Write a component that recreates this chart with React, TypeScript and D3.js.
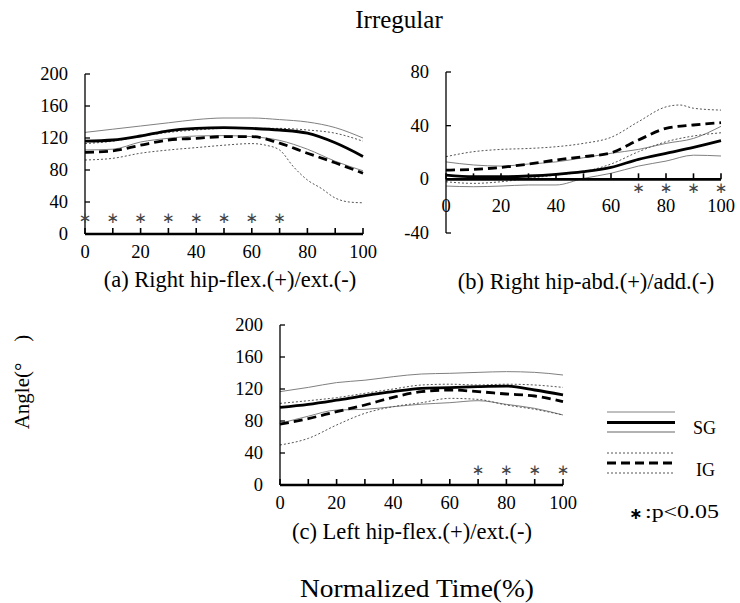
import React from "react";
import * as d3 from "d3";

const xs = [0, 10, 20, 30, 40, 50, 60, 70, 80, 90, 100];

// (a) Right hip flex/ext
const aSgMean = [116, 117.5, 122.5, 129, 132, 133, 132, 130, 126, 114, 97];
const aSgUpper = [127, 131, 135, 139, 143, 145, 145, 143, 140, 133, 120];
const aSgLower = [105, 106, 115, 119.6, 122.5, 123, 121.7, 117, 106, 91, 79];
const aIgMean = [102, 104, 111, 117.5, 119.6, 121.7, 121.7, 113.5, 101, 89, 76];
const aIgUpper = [113, 116, 122, 127, 130, 132, 132, 132, 130, 126, 116];
const aIgLowerX = [0, 10, 20, 30, 40, 50, 60, 65, 70, 75, 80, 85, 90, 95, 100];
const aIgLower = [92.5, 94.6, 101, 105, 108, 111, 113, 111, 105, 84, 67.5, 57, 45, 40, 39];
const aStars = [0, 10, 20, 30, 40, 50, 60, 70];

// (b) Right hip abd/add
const bSgMean = [3.2, 2, 2, 2.5, 3.7, 5.7, 8.9, 14.9, 19.4, 23.8, 28.8];
const bSgUpper = [13, 10.7, 9.9, 11.4, 13, 16.1, 19.4, 22.3, 26.8, 30.5, 39.5];
const bSgLower = [-5, -5.5, -5, -4.2, -4.2, 0.7, 4.5, 9.9, 13.6, 18, 17.4];
const bIgMean = [6.9, 7.4, 8.9, 11.4, 14.4, 16.9, 19.8, 29.3, 38, 40.5, 42.2];
const bIgUpperX = [0, 10, 20, 30, 40, 50, 60, 70, 80, 85, 90, 100];
const bIgUpper = [16.9, 20.6, 22.3, 23, 24.3, 26.8, 31.3, 43, 54, 55.4, 53, 51.6];
const bIgLower = [-1.8, -3, -1.8, 0.7, 3.2, 5.7, 11.4, 20.6, 28, 32.3, 34.7];
const bStars = [70, 80, 90, 100];

// (c) Left hip flex/ext
const cSgMean = [97, 100.8, 106, 111.7, 116.7, 120.8, 121.7, 123, 123.7, 118.75, 112.5];
const cSgUpper = [116.7, 122, 128, 131, 135.4, 138.75, 139.6, 140.8, 141.7, 140.8, 137.5];
const cSgLower = [77, 86, 93.75, 94.6, 97.9, 101, 102.9, 105.4, 100.8, 95.8, 87.5];
const cIgMean = [76, 83, 91.7, 100, 109.6, 116.7, 118.75, 116.7, 113.75, 111.25, 104.2];
const cIgUpper = [102, 105.4, 109.2, 114.6, 120, 125, 126, 125, 126, 125, 122];
const cIgLower = [50, 58.3, 75, 89.6, 97.9, 102.9, 108.3, 107, 100, 94.6, 87.5];
const cStars = [70, 80, 90, 100];

const xTickLabels = [0, 20, 40, 60, 80, 100];
const flexTicks = [0, 40, 80, 120, 160, 200];
const abdTicks = [-40, 0, 40, 80];

const FONT = "'Liberation Serif', 'DejaVu Serif', serif";

type SeriesDef = { x: number[]; y: number[]; kind: "sgMean" | "sgSd" | "igMean" | "igSd" };

function styleFor(kind: SeriesDef["kind"]) {
  switch (kind) {
    case "sgMean":
      return { stroke: "#000", width: 2.8, dash: undefined as string | undefined };
    case "sgSd":
      return { stroke: "#808080", width: 1, dash: undefined };
    case "igMean":
      return { stroke: "#000", width: 2.8, dash: "9,5" };
    default:
      return { stroke: "#555", width: 1, dash: "2,2" };
  }
}

function Panel(props: {
  left: number;
  right: number;
  top: number;
  bottom: number;
  domain: [number, number];
  yTicks: number[];
  series: SeriesDef[];
  stars: number[];
  starVal: number;
  xAxisVal: number;
  xLabelOffset: number;
  label: string;
  labelX: number;
  labelY: number;
}) {
  const x = d3.scaleLinear().domain([0, 100]).range([props.left, props.right]);
  const y = d3.scaleLinear().domain(props.domain).range([props.bottom, props.top]);
  const axisY = y(props.xAxisVal);
  const minor = d3.range(0, 101, 10);
  return (
    <g>
      {props.series.map((s, i) => {
        const st = styleFor(s.kind);
        const line = d3
          .line<number>()
          .x((_, j) => x(s.x[j]))
          .y((v) => y(v))
          .curve(d3.curveMonotoneX);
        return (
          <path
            key={i}
            d={line(s.y) || ""}
            fill="none"
            stroke={st.stroke}
            strokeWidth={st.width}
            strokeDasharray={st.dash}
          />
        );
      })}
      <line x1={x(0)} x2={x(0)} y1={y(props.domain[0])} y2={y(props.domain[1])} stroke="#000" strokeWidth={1.3} />
      {props.yTicks.map((t) => (
        <g key={t}>
          <line x1={x(0)} x2={x(0) + 5} y1={y(t)} y2={y(t)} stroke="#000" strokeWidth={1.3} />
          <text
            x={x(0) - 17}
            y={y(t)}
            textAnchor="end"
            dominantBaseline="central"
            fontFamily={FONT}
            fontSize={18.5}
          >
            {t}
          </text>
        </g>
      ))}
      <line x1={x(0)} x2={x(100)} y1={axisY} y2={axisY} stroke="#000" strokeWidth={2.6} />
      {minor.map((t) => (
        <line key={t} x1={x(t)} x2={x(t)} y1={axisY} y2={axisY - 6} stroke="#000" strokeWidth={1.6} />
      ))}
      {xTickLabels.map((t) => (
        <text
          key={t}
          x={x(t)}
          y={axisY + props.xLabelOffset}
          textAnchor="middle"
          dominantBaseline="central"
          fontFamily={FONT}
          fontSize={18.5}
        >
          {t}
        </text>
      ))}
      {props.stars.map((t) => (
        <text
          key={t}
          x={x(t)}
          y={y(props.starVal)}
          textAnchor="middle"
          dominantBaseline="central"
          fontFamily="'DejaVu Sans', sans-serif"
          fontSize={15}
          fill="#444"
        >
          ∗
        </text>
      ))}
      <text
        x={props.labelX}
        y={props.labelY}
        textAnchor="middle"
        dominantBaseline="central"
        fontFamily={FONT}
        fontSize={22.5}
      >
        {props.label}
      </text>
    </g>
  );
}

export default function App() {
  return (
    <svg
      width={740}
      height={603}
      style={{ position: "absolute", left: 0, top: 0, background: "#fff" }}
    >
      <rect x={0} y={0} width={740} height={603} fill="#fff" />
      <text x={399} y={19} textAnchor="middle" dominantBaseline="central" fontFamily={FONT} fontSize={25}>
        Irregular
      </text>
      <Panel
        left={85}
        right={363}
        top={74}
        bottom={234}
        domain={[0, 200]}
        yTicks={flexTicks}
        xAxisVal={0}
        xLabelOffset={18}
        series={[
          { x: xs, y: aSgUpper, kind: "sgSd" },
          { x: xs, y: aSgLower, kind: "sgSd" },
          { x: xs, y: aIgUpper, kind: "igSd" },
          { x: aIgLowerX, y: aIgLower, kind: "igSd" },
          { x: xs, y: aSgMean, kind: "sgMean" },
          { x: xs, y: aIgMean, kind: "igMean" },
        ]}
        stars={aStars}
        starVal={20}
        label="(a) Right hip-flex.(+)/ext.(-)"
        labelX={230}
        labelY={279}
      />
      <Panel
        left={446}
        right={721}
        top={72}
        bottom={233}
        domain={[-40, 80]}
        yTicks={abdTicks}
        xAxisVal={0}
        xLabelOffset={27}
        series={[
          { x: xs, y: bSgUpper, kind: "sgSd" },
          { x: xs, y: bSgLower, kind: "sgSd" },
          { x: bIgUpperX, y: bIgUpper, kind: "igSd" },
          { x: xs, y: bIgLower, kind: "igSd" },
          { x: xs, y: bSgMean, kind: "sgMean" },
          { x: xs, y: bIgMean, kind: "igMean" },
        ]}
        stars={bStars}
        starVal={-6.6}
        label="(b) Right hip-abd.(+)/add.(-)"
        labelX={586}
        labelY={281}
      />
      <Panel
        left={280}
        right={563}
        top={325}
        bottom={485}
        domain={[0, 200]}
        yTicks={flexTicks}
        xAxisVal={0}
        xLabelOffset={18}
        series={[
          { x: xs, y: cSgUpper, kind: "sgSd" },
          { x: xs, y: cSgLower, kind: "sgSd" },
          { x: xs, y: cIgUpper, kind: "igSd" },
          { x: xs, y: cIgLower, kind: "igSd" },
          { x: xs, y: cSgMean, kind: "sgMean" },
          { x: xs, y: cIgMean, kind: "igMean" },
        ]}
        stars={cStars}
        starVal={19}
        label="(c) Left hip-flex.(+)/ext.(-)"
        labelX={412}
        labelY={531}
      />
      <text
        transform="translate(22,382) rotate(-90)"
        textAnchor="middle"
        dominantBaseline="central"
        fontFamily={FONT}
        fontSize={21}
      >
        Angle(°　)
      </text>
      <text
        x={417}
        y={588}
        textAnchor="middle"
        dominantBaseline="central"
        fontFamily={FONT}
        fontSize={25}
        textLength={234}
        lengthAdjust="spacingAndGlyphs"
      >
        Normalized Time(%)
      </text>
      <g>
        <line x1={607} x2={675} y1={412} y2={412} stroke="#808080" strokeWidth={1} />
        <line x1={607} x2={675} y1={422.5} y2={422.5} stroke="#000" strokeWidth={3} />
        <line x1={607} x2={675} y1={432} y2={432} stroke="#999" strokeWidth={1.5} />
        <text x={693} y={428} dominantBaseline="central" fontFamily={FONT} fontSize={18}>
          SG
        </text>
        <line x1={607} x2={675} y1={453} y2={453} stroke="#555" strokeWidth={1} strokeDasharray="2,2" />
        <line x1={607} x2={675} y1={463} y2={463} stroke="#000" strokeWidth={3} strokeDasharray="9,5" />
        <line x1={607} x2={675} y1={473} y2={473} stroke="#555" strokeWidth={1} strokeDasharray="2,2" />
        <text x={696} y={470} dominantBaseline="central" fontFamily={FONT} fontSize={18}>
          IG
        </text>
        <text x={629} y={513} dominantBaseline="central" fontFamily="'DejaVu Sans', sans-serif" fontSize={16} fontWeight="bold">
          ∗
        </text>
        <text
          x={645}
          y={512}
          dominantBaseline="central"
          fontFamily={FONT}
          fontSize={18}
          textLength={74}
          lengthAdjust="spacingAndGlyphs"
        >
          :p&lt;0.05
        </text>
      </g>
    </svg>
  );
}
